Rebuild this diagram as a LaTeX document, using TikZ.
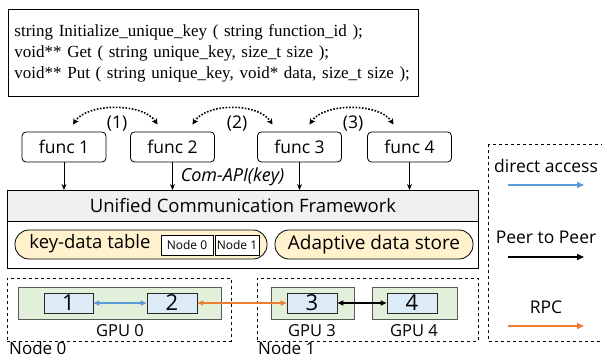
\documentclass[tikz,border=0pt]{standalone}
\usepackage{fontspec}
\setmainfont{Open Sans}
\newfontfamily\codefont{Liberation Serif}
\usetikzlibrary{arrows.meta}
\definecolor{hdrgray}{HTML}{F0F0F0}
\definecolor{pillyel}{HTML}{FFF2CC}
\definecolor{gpugreen}{HTML}{E2EFDA}
\definecolor{gpuedge}{HTML}{595959}
\definecolor{chipblue}{HTML}{DDEBF7}
\definecolor{accblue}{HTML}{5B9BD5}
\definecolor{rpcorange}{HTML}{ED7D31}
\newcommand{\fs}[1]{\fontsize{#1}{#1}\selectfont}
\begin{document}
\begin{tikzpicture}[x=1pt,y=-1pt,
  funcbox/.style={draw, rounded corners=4pt, line width=0.8pt, minimum width=84pt, minimum height=30pt, inner sep=0pt, font=\fs{17.5}},
  pillbox/.style={draw, fill=pillyel, rounded corners=14pt, line width=0.8pt, inner sep=0pt, minimum height=29pt},
  smallbox/.style={draw, fill=white, line width=0.6pt, inner sep=0pt, minimum height=20pt, font=\fs{12}},
  nodebox/.style={draw, dashed, line width=0.8pt, inner sep=0pt, minimum height=63pt},
  gpubox/.style={draw=gpuedge, fill=gpugreen, line width=0.8pt, inner sep=0pt, minimum height=32pt},
  chip/.style={draw=black!85, fill=chipblue, line width=0.8pt, inner sep=0pt, minimum width=50pt, minimum height=20pt, font=\fs{22}},
  lbl/.style={inner sep=0pt, font=\fs{16.5}},
  downarr/.style={-{Stealth[length=6pt,width=5pt]}, line width=0.8pt},
  dotarr/.style={{Stealth[length=6pt,width=6pt]}-{Stealth[length=6pt,width=6pt]}, line width=1.6pt, dash pattern=on 1.6pt off 1.6pt},
  legarr/.style={-{Triangle[length=7pt,width=6pt]}, line width=1.6pt},
  dblarr/.style={{Triangle[length=6pt,width=5pt]}-{Triangle[length=6pt,width=5pt]}, line width=1.2pt}
]
\useasboundingbox (0,0) rectangle (602,358);

% code box
\node[draw, line width=0.9pt, anchor=north west, text width=398pt, minimum height=87pt, inner xsep=6pt, inner ysep=0pt, align=left, font=\codefont\fontsize{17}{21}\selectfont] (code) at (8,9)
{string Initialize\_unique\_key ( string function\_id );\\
void** Get ( string unique\_key, size\_t size );\\
void** Put ( string unique\_key, void* data, size\_t size );};

% functions
\node[funcbox] (f1) at (64,147) {func 1};
\node[funcbox] (f2) at (172.5,147) {func 2};
\node[funcbox] (f3) at (299.5,147) {func 3};
\node[funcbox] (f4) at (409.5,147) {func 4};

% dotted arrows
\coordinate (d1a) at ([xshift=9pt,yshift=7pt]f1.north);
\coordinate (d1b) at ([xshift=-15pt,yshift=7pt]f2.north);
\coordinate (d2a) at ([xshift=20pt,yshift=7pt]f2.north);
\coordinate (d2b) at ([xshift=-27pt,yshift=7pt]f3.north);
\coordinate (d3a) at ([xshift=10pt,yshift=7pt]f3.north);
\coordinate (d3b) at ([xshift=-16pt,yshift=7pt]f4.north);
\draw[dotarr] (d1a) .. controls +(14,-22) and +(-14,-22) .. (d1b);
\draw[dotarr] (d2a) .. controls +(14,-22) and +(-14,-22) .. (d2b);
\draw[dotarr] (d3a) .. controls +(14,-22) and +(-14,-22) .. (d3b);
\node[lbl, font=\fs{17.5}] (l1) at (117,124) {(1)};
\node[lbl, font=\fs{17.5}] (l2) at (237,124) {(2)};
\node[lbl, font=\fs{17.5}] (l3) at (353,124) {(3)};

% UCF
\node[draw, line width=0.9pt, anchor=north west, minimum width=471pt, minimum height=78pt, inner sep=0pt] (ucf) at (7,190) {};
\node[draw, line width=0.9pt, fill=hdrgray, anchor=north west, minimum width=471pt, minimum height=31pt, inner sep=0pt, font=\fs{18.5}] (hdr) at (7,190) {Unified Communication Framework};

\draw[downarr] (f1.south) -- (f1.south |- ucf.north);
\draw[downarr] (f2.south) -- (f2.south |- ucf.north);
\draw[downarr] (f3.south) -- (f3.south |- ucf.north);
\draw[downarr] (f4.south) -- (f4.south |- ucf.north);
\node[lbl, font=\itshape\fs{18}] (api) at (232.5,177) {Com-API(key)};

% pills
\node[pillbox, minimum width=252pt] (kdt) at (141,244.5) {};
\node[inner sep=0pt, font=\fs{18.5}] (kdtt) at (90,244) {key-data table};
\node[smallbox, minimum width=52pt] (n0s) at (187,245) {Node 0};
\node[smallbox, minimum width=44pt] (n1s) at (237,245) {Node 1};
\node[pillbox, minimum width=198pt, font=\fs{19}] (ads) at (374,244.5) {Adaptive data store};

% hardware nodes
\node[nodebox, anchor=north west, minimum width=224pt] (nd0) at (7,278) {};
\node[nodebox, anchor=north west, minimum width=221pt] (nd1) at (257,278) {};
\node[gpubox, anchor=north west, minimum width=203pt] (g0) at (18,287) {};
\node[gpubox, anchor=north west, minimum width=83pt] (g3) at (271,287) {};
\node[gpubox, anchor=north west, minimum width=85pt] (g4) at (372,287) {};
\node[chip, minimum width=49pt] (c1) at (68.5,303) {1};
\node[chip] (c2) at (172,303) {2};
\node[chip] (c3) at (312,303) {3};
\node[chip] (c4) at (412,303) {4};
\node[lbl] (g0l) at (120,331) {GPU 0};
\node[lbl] (g3l) at (312,331) {GPU 3};
\node[lbl] (g4l) at (414,331) {GPU 4};
\node[lbl, anchor=west, font=\fs{17}] (n0l) at (9,348) {Node 0};
\node[lbl, anchor=west, font=\fs{17}] (n1l) at (258,348) {Node 1};

\draw[dblarr, accblue] (c1.east) -- (c2.west);
\draw[dblarr, rpcorange] (c2.east) -- (c3.west);
\draw[dblarr, black] (c3.east) -- (c4.west);

% legend
\draw[dashed, line width=0.8pt] (488,144) rectangle (610,341);
\node[lbl, font=\fs{17.5}] (lg1) at (546,166) {direct access};
\node[lbl, font=\fs{17.5}] (lg2) at (546,237) {Peer to Peer};
\node[lbl, font=\fs{17.5}] (lg3) at (546,307) {RPC};
\coordinate (a1s) at (508,185); \coordinate (a1e) at (584,185);
\coordinate (a2s) at (508,257); \coordinate (a2e) at (584,257);
\coordinate (a3s) at (508,326); \coordinate (a3e) at (584,326);
\draw[legarr, accblue] (a1s) -- (a1e);
\draw[legarr, black] (a2s) -- (a2e);
\draw[legarr, rpcorange] (a3s) -- (a3e);
\end{tikzpicture}
\end{document}
